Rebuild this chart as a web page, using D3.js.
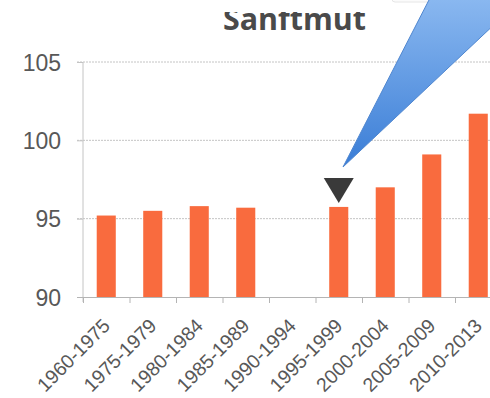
<!DOCTYPE html>
<html><head><meta charset="utf-8">
<script src="https://cdn.jsdelivr.net/npm/d3@7"></script>
<style>html,body{margin:0;padding:0;background:#fff;}svg{display:block;}</style>
</head><body>
<script>
const categories = ["1960-1975","1975-1979","1980-1984","1985-1989","1990-1994","1995-1999","2000-2004","2005-2009","2010-2013"];
const values = [95.2, 95.5, 95.8, 95.7, null, 95.75, 97.0, 99.1, 101.7];
const yTicks = [90, 95, 100, 105];
const markedCategory = "1995-1999";
const title = "Sanftmut";

const W = 490, H = 398;
const svg = d3.select("body").append("svg").attr("width", W).attr("height", H);
const defs = svg.append("defs");

const x = d3.scaleBand().domain(categories).range([83, 83 + 9 * 46.5]).paddingInner(0.59).paddingOuter(0.295);
const y = d3.scaleLinear().domain([90, 105]).range([297, 62]);

// gridlines
svg.append("g").selectAll("line").data(yTicks.filter(d => d !== 90)).join("line")
  .attr("x1", 77).attr("x2", W).attr("y1", d => y(d)).attr("y2", d => y(d))
  .attr("stroke", "#c4c4c4").attr("stroke-width", 1).attr("stroke-dasharray", "2,1");

// y axis
const yAxis = svg.append("g").attr("transform", "translate(83,0)")
  .call(d3.axisLeft(y).tickValues(yTicks).tickSize(6).tickPadding(16));
yAxis.select(".domain").attr("stroke", "#c4c4c4").attr("d", `M0,${y(105)}V${y(90)+5}`);
yAxis.selectAll(".tick line").attr("stroke", "#c4c4c4");
yAxis.selectAll(".tick text").attr("font-family", "'Liberation Sans', Arial, sans-serif")
  .attr("font-size", 23).attr("fill", "#585858").attr("dy", "0.36em");

// x axis
const xAxis = svg.append("g").attr("transform", `translate(0,${y(90)})`)
  .call(d3.axisBottom(x).tickSize(0).tickPadding(0));
xAxis.select(".domain").attr("stroke", "#b4b4b4").attr("d", `M77,0.5H${W}`);
xAxis.selectAll(".tick text")
  .attr("font-family", "'Liberation Sans', Arial, sans-serif").attr("font-size", 19.5).attr("fill", "#585858")
  .attr("text-anchor", "end").attr("dy", 0).attr("y", 0)
  .attr("transform", "translate(5,30) rotate(-45)");
// boundary ticks
xAxis.append("g").selectAll("line").data(categories).join("line")
  .attr("x1", d => x(d) - x.step() * x.paddingInner() / 2 + 0.5)
  .attr("x2", d => x(d) - x.step() * x.paddingInner() / 2 + 0.5)
  .attr("y1", 0).attr("y2", 6).attr("stroke", "#b4b4b4");

// bars
svg.append("g").selectAll("rect").data(categories.map((c, i) => ({c, v: values[i]})).filter(d => d.v != null)).join("rect")
  .attr("x", d => x(d.c)).attr("width", x.bandwidth())
  .attr("y", d => y(d.v)).attr("height", d => y(90) - y(d.v))
  .attr("fill", "#f96b3e");

// marker triangle
const mv = values[categories.indexOf(markedCategory)];
const mx = x(markedCategory) + x.bandwidth() / 2;
const tipY = y(mv) - 4;
svg.append("path")
  .attr("d", `M${mx - 15},${tipY - 25}L${mx + 15},${tipY - 25}L${mx},${tipY}Z`)
  .attr("fill", "#3a3a3a");

// title (top clipped as in the reference)
defs.append("clipPath").attr("id", "tclip").append("rect").attr("x", 0).attr("y", 12).attr("width", W).attr("height", 60);
svg.append("text").attr("clip-path", "url(#tclip)")
  .attr("x", 294.5).attr("y", 30).attr("text-anchor", "middle")
  .attr("font-family", "'Open Sans', sans-serif").attr("font-weight", 700).attr("font-size", 30)
  .attr("textLength", 143).attr("lengthAdjust", "spacingAndGlyphs")
  .attr("fill", "#4a4a4a").text(title);

// callout pointer annotation
const grad = defs.append("linearGradient").attr("id", "cg").attr("x1", 0).attr("y1", 0).attr("x2", 0).attr("y2", 1);
grad.append("stop").attr("offset", "0%").attr("stop-color", "#8ab8f0");
grad.append("stop").attr("offset", "100%").attr("stop-color", "#3a7dd6");
svg.append("rect").attr("x", 392).attr("y", -6).attr("width", 120).attr("height", 8).attr("rx", 3)
  .attr("fill", "#fbfbfb").attr("stroke", "#e6e6e6");
svg.append("path")
  .attr("d", "M343,167L430,-2L520,-2L520,0L490,28.5Z")
  .attr("fill", "url(#cg)").attr("stroke", "#4f86cf").attr("stroke-width", 1).attr("stroke-linejoin", "round");
</script>
</body></html>
